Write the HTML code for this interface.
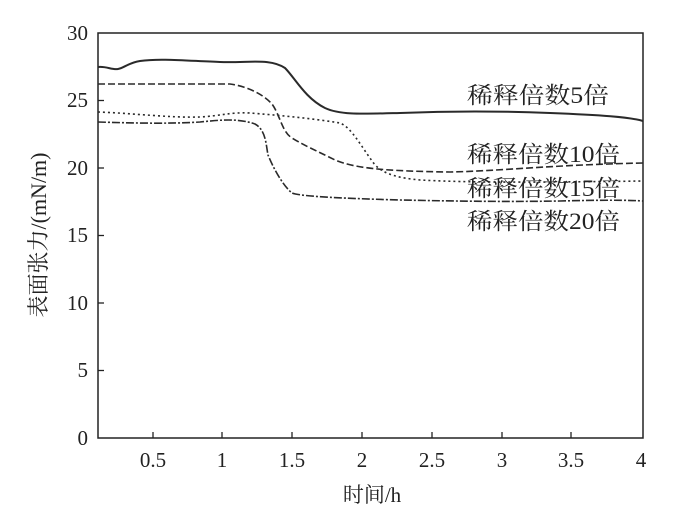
<!DOCTYPE html><html><head><meta charset="utf-8"><style>body{margin:0;background:#fff}svg{display:block}text{font-family:"Liberation Serif","Noto Serif CJK SC",serif;fill:#222}</style></head><body>
<svg width="689" height="512" viewBox="0 0 689 512">
<rect x="98" y="33" width="545" height="405" fill="none" stroke="#222" stroke-width="1.5"/>
<g stroke="#222" stroke-width="1.3">
<line x1="98" y1="100.5" x2="104" y2="100.5"/><line x1="98" y1="168" x2="104" y2="168"/><line x1="98" y1="235.5" x2="104" y2="235.5"/><line x1="98" y1="303" x2="104" y2="303"/><line x1="98" y1="370.5" x2="104" y2="370.5"/>
<line x1="153" y1="438" x2="153" y2="432"/><line x1="222" y1="438" x2="222" y2="432"/><line x1="292" y1="438" x2="292" y2="432"/><line x1="362" y1="438" x2="362" y2="432"/><line x1="432" y1="438" x2="432" y2="432"/><line x1="502" y1="438" x2="502" y2="432"/><line x1="571" y1="438" x2="571" y2="432"/>
</g>
<g font-size="21" text-anchor="end">
<text x="88" y="40">30</text><text x="88" y="107">25</text><text x="88" y="175">20</text><text x="88" y="242">15</text><text x="88" y="310">10</text><text x="88" y="377">5</text><text x="88" y="445">0</text></g>
<g font-size="21" text-anchor="middle">
<text x="153" y="467">0.5</text><text x="222" y="467">1</text><text x="292" y="467">1.5</text><text x="362" y="467">2</text><text x="432" y="467">2.5</text><text x="502" y="467">3</text><text x="571" y="467">3.5</text><text x="641" y="467">4</text>
<text x="372" y="502">时间/h</text></g>
<text font-size="22" text-anchor="middle" transform="translate(46,235) rotate(-90)">表面张力/(mN/m)</text>
<g fill="none" stroke="#2a2a2a">
<path stroke-width="2" d="M98,67 C106,66 112,70 118,69 C124,68 128,63 140,61 C160,58 190,61 220,62 C250,63 270,58 285,68 C295,78 305,98 325,108 C340,115 360,114 400,113 C450,111 500,111 550,113 C600,115 630,117 643,121"/>
<path stroke-width="1.6" stroke-dasharray="7,3" d="M98,84 L230,84 C245,86 262,93 272,104 C280,115 282,132 292,138 C305,146 315,150 335,160 C355,168 380,171 450,172 C500,171 550,165 643,163"/>
<path stroke-width="1.6" stroke-dasharray="2,3" d="M98,112 C130,113 170,118 200,117 C220,116 230,112 250,113 C275,115 310,118 340,123 C352,128 360,145 375,165 C385,175 400,178 420,180 C460,182 500,183 643,181"/>
<path stroke-width="1.6" stroke-dasharray="8,2,2,2" d="M98,122 C130,123 170,124 200,122 C220,120 238,118 255,124 C266,130 266,145 268,155 C272,165 282,185 292,193 C300,196 330,198 400,200 C450,201 500,202 560,201 C600,200 630,200 643,201"/>
</g>
<g font-size="23">
<text x="467" y="103" textLength="142" lengthAdjust="spacingAndGlyphs">稀释倍数5倍</text><text x="467" y="162" textLength="153" lengthAdjust="spacingAndGlyphs">稀释倍数10倍</text><text x="467" y="196" textLength="153" lengthAdjust="spacingAndGlyphs">稀释倍数15倍</text><text x="467" y="229" textLength="153" lengthAdjust="spacingAndGlyphs">稀释倍数20倍</text></g>
</svg></body></html>
